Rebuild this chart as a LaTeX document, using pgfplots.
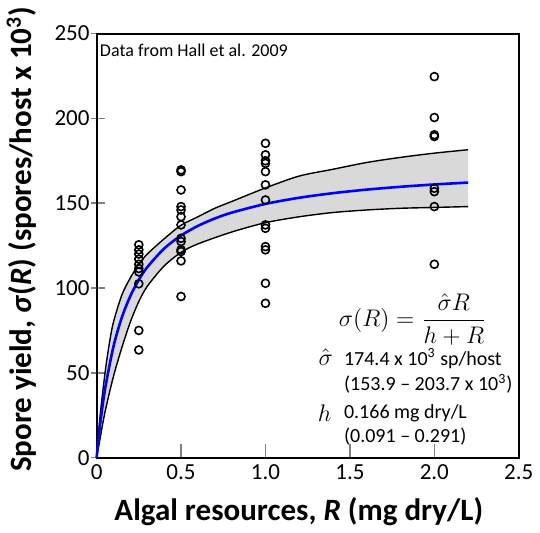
\documentclass[border=0pt]{standalone}
\usepackage{fontspec}
\setmainfont{Carlito}
\usepackage{amsmath}
\usepackage{pgfplots}
\pgfplotsset{compat=1.18}
\definecolor{BandGray}{RGB}{217,217,217}

\begin{document}
\begin{tikzpicture}
\begin{axis}[
    width=211pt, height=212pt, scale only axis,
    xmin=0, xmax=2.5, ymin=0, ymax=250,
    xtick={0,0.5,1,1.5,2,2.5},
    xticklabels={0,0.5,1.0,1.5,2.0,2.5},
    ytick={0,50,100,150,200,250},
    tick align=inside, major tick length=7pt,
    xtick pos=bottom, ytick pos=left,
    ytick style={xshift=-3pt, line width=0.8pt},
    xtick style={line width=0.8pt},
    axis line style={line width=1pt},
    tick label style={font=\fontsize{11.5}{13}\selectfont},
    /pgf/number format/assume math mode=true,
    label style={font=\fontsize{15.5}{17}\selectfont\bfseries},
    xlabel={Algal resources, \textit{R} (mg dry/L)},
    ylabel={Spore yield, \textit{σ}(\textit{R}) (spores/host x 10\textsuperscript{3})},
    xlabel style={at={(axis description cs:0.479,-0.127)}, anchor=center},
    ylabel style={at={(axis description cs:-0.178,0.515)}, anchor=center},
    clip=false,
]
% confidence band
\addplot[fill=BandGray, draw=none] coordinates {
    (0,0) (0.02,24) (0.05,50) (0.075,67) (0.1,80) (0.15,96) (0.2,106)
    (0.25,114) (0.3,120) (0.4,129) (0.5,137) (0.6,142) (0.7,147) (0.8,151)
    (1.0,159) (1.2,166) (1.4,170) (1.6,174) (1.8,177) (2.0,179.5) (2.2,181.5)
    (2.2,148) (2.0,147.5) (1.8,147) (1.6,146) (1.4,144.5) (1.2,142) (1.0,138.5)
    (0.8,133) (0.6,126) (0.5,121) (0.4,113) (0.3,101) (0.25,92) (0.2,80)
    (0.15,65) (0.1,48) (0.05,27) (0.02,11) (0,0)
} -- cycle;
\addplot[black, line width=0.7pt, smooth] coordinates {
    (0,0) (0.02,24) (0.05,50) (0.075,67) (0.1,80) (0.15,96) (0.2,106)
    (0.25,114) (0.3,120) (0.4,129) (0.5,137) (0.6,142) (0.7,147) (0.8,151)
    (1.0,159) (1.2,166) (1.4,170) (1.6,174) (1.8,177) (2.0,179.5) (2.2,181.5)
};
\addplot[black, line width=0.7pt, smooth] coordinates {
    (0,0) (0.02,11) (0.05,27) (0.1,48) (0.15,65) (0.2,80) (0.25,92) (0.3,101)
    (0.4,113) (0.5,121) (0.6,126) (0.8,133) (1.0,138.5) (1.2,142) (1.4,144.5)
    (1.6,146) (1.8,147) (2.0,147.5) (2.2,148)
};
% fitted curve
\addplot[blue, line width=1.3pt, smooth] coordinates {
    (0,0) (0.02,18.75) (0.05,40.37) (0.1,65.56) (0.15,82.78) (0.2,95.30)
    (0.25,104.81) (0.3,112.27) (0.4,123.25) (0.5,130.93) (0.6,136.61)
    (0.7,140.97) (0.8,144.43) (1.0,149.57) (1.2,153.21) (1.4,155.91)
    (1.6,158.01) (1.8,159.67) (2.0,161.03) (2.2,162.16)
};
% observations
\addplot[only marks, mark=o, mark size=2pt, mark options={line width=0.8pt, fill=none}, black] coordinates {
    (0.25,125.5) (0.25,122.5) (0.25,120) (0.25,117) (0.25,114) (0.25,111.5)
    (0.25,109.5) (0.25,102.5) (0.25,75) (0.25,63.5)
    (0.5,169.6) (0.5,168.6) (0.5,157.8) (0.5,148) (0.5,146) (0.5,142)
    (0.5,137.2) (0.5,129.3) (0.5,127.4) (0.5,122.5) (0.5,121.5) (0.5,116) (0.5,95)
    (1.0,185.3) (1.0,178.5) (1.0,175) (1.0,173.5) (1.0,168.6) (1.0,160.8)
    (1.0,151.9) (1.0,137.2) (1.0,135.2) (1.0,124.4) (1.0,122.5) (1.0,102.8) (1.0,91)
    (2.0,224.6) (2.0,200.5) (2.0,190.3) (2.0,189.3) (2.0,158.8) (2.0,156.8)
    (2.0,148) (2.0,114)
};
\node[anchor=north west, inner sep=0pt, font=\fontsize{9}{11}\selectfont]
    at (rel axis cs:0,1) [xshift=1.5pt, yshift=-5pt] {Data from Hall et al. 2009};
\node[font=\fontsize{13}{15}\selectfont] at (axis cs:1.872,81.4)
    {$\sigma(R)=\dfrac{\hat{\sigma}R}{h+R}$};
\node[font=\fontsize{13}{15}\selectfont] at (axis cs:1.357,59.5) {$\hat{\sigma}$};
\node[font=\fontsize{13}{15}\selectfont] at (axis cs:1.35,26.5) {$h$};
\node[anchor=west, inner sep=0pt, font=\fontsize{10}{12}\selectfont] at (axis cs:1.463,58.5)
    {174.4 x 10\textsuperscript{3} sp/host};
\node[anchor=west, inner sep=0pt, font=\fontsize{10}{12}\selectfont] at (axis cs:1.463,43.6)
    {(153.9 -- 203.7 x 10\textsuperscript{3})};
\node[anchor=west, inner sep=0pt, font=\fontsize{10}{12}\selectfont] at (axis cs:1.463,26)
    {0.166 mg dry/L};
\node[anchor=west, inner sep=0pt, font=\fontsize{10}{12}\selectfont] at (axis cs:1.463,12.4)
    {(0.091 -- 0.291)};
\end{axis}
\end{tikzpicture}
\end{document}
